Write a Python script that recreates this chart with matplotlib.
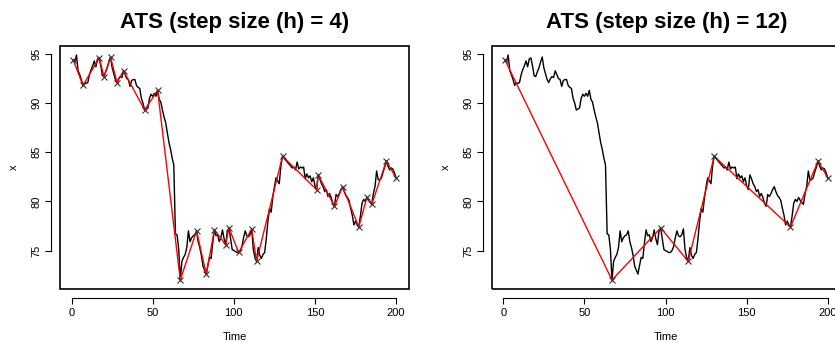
import matplotlib
matplotlib.use("Agg")
import matplotlib.pyplot as plt
from matplotlib.patches import Rectangle
import numpy as np

plt.rcParams['font.family'] = ['Liberation Sans', 'DejaVu Sans']

# series, t = 1..200
x_values = [
    94.4, 94.2, 94.9, 93.3, 92.9, 92.4, 91.8, 92.1, 92.0, 92.1,
    92.9, 93.4, 93.8, 94.3, 93.7, 94.5, 94.6, 93.8, 92.8, 92.7,
    93.2, 93.6, 94.2, 94.7, 93.6, 93.0, 92.4, 92.1, 92.5, 92.7,
    92.6, 93.3, 92.9, 92.5, 92.4, 91.7, 92.3, 92.4, 92.4, 91.8,
    91.6, 91.5, 90.5, 90.0, 89.3, 89.4, 89.5, 90.5, 90.9, 90.7,
    91.0, 90.7, 91.3, 90.4, 90.1, 89.3, 88.6, 88.0, 87.0, 86.0,
    85.3, 84.4, 83.7, 76.7, 76.6, 75.2, 72.0, 73.9, 74.3, 74.6,
    75.3, 77.0, 75.9, 76.3, 76.5, 76.6, 77.0, 75.9, 75.3, 74.5,
    73.4, 73.0, 72.6, 73.5, 74.3, 74.2, 75.8, 77.1, 76.5, 76.6,
    75.9, 76.3, 77.1, 76.2, 75.6, 77.0, 77.3, 76.2, 75.1, 75.0,
    74.9, 74.8, 74.8, 75.0, 75.4, 76.3, 77.0, 76.5, 76.4, 76.6,
    77.2, 75.1, 74.3, 73.9, 75.3, 74.5, 74.2, 74.6, 74.8, 76.2,
    78.0, 79.3, 78.9, 80.4, 81.5, 82.4, 82.1, 81.8, 83.6, 84.6,
    84.4, 84.2, 84.0, 83.8, 83.6, 83.4, 83.5, 83.2, 84.0, 83.3,
    83.5, 83.4, 83.5, 82.3, 82.8, 82.4, 82.6, 82.0, 82.4, 81.6,
    81.2, 82.7, 82.3, 81.8, 81.5, 81.0, 81.2, 80.5, 80.8, 80.4,
    79.8, 79.5, 80.7, 80.5, 80.8, 81.2, 81.5, 81.0, 80.6, 80.4,
    80.1, 79.3, 78.6, 77.6, 78.0, 77.6, 77.4, 78.5, 79.8, 80.2,
    80.0, 80.4, 80.1, 79.9, 79.7, 80.8, 81.5, 83.1, 82.2, 82.2,
    82.4, 83.0, 83.5, 84.1, 83.6, 83.2, 83.4, 83.3, 82.9, 82.4,
]
time = np.arange(1, len(x_values) + 1)

# turning points picked by ATS for each step size
points_h4 = [1, 7, 17, 20, 24, 28, 32, 45, 53, 67, 77, 83, 88, 95, 97, 103,
             111, 114, 130, 151, 152, 162, 167, 177, 182, 185, 194, 200]
points_h12 = [1, 67, 97, 114, 130, 177, 194, 200]

titles = ["ATS (step size (h) = 4)", "ATS (step size (h) = 12)"]
point_sets = [points_h4, points_h12]

fig = plt.figure(figsize=(8.35, 3.43), dpi=100)
W, H = 835, 343
box_w, box_h = 348.7, 243
lefts = [60.3, 492]
top = 46

x_arr = np.array(x_values)
pad_x = 0.04 * (time[-1] - time[0])
pad_y = 0.04 * (x_arr.max() - x_arr.min())

for left, title, pts in zip(lefts, titles, point_sets):
    ax = fig.add_axes([left / W, (H - top - box_h) / H, box_w / W, box_h / H])
    ax.plot(time, x_arr, color='black', lw=1.0)
    pts = np.array(pts)
    ax.plot(pts, x_arr[pts - 1], color='red', lw=1.0)
    ax.plot(pts, x_arr[pts - 1], ls='none', marker='x', color='#333333',
            ms=4.5, mew=0.8)
    ax.set_xlim(time[0] - pad_x, time[-1] + pad_x)
    ax.set_ylim(x_arr.min() - pad_y, x_arr.max() + pad_y)

    # R style: box around plot region, axes drawn slightly outward
    ax.add_patch(Rectangle((0, 0), 1, 1, transform=ax.transAxes, fill=False,
                           lw=1.2, color='black', clip_on=False))
    for s in ['top', 'right']:
        ax.spines[s].set_visible(False)
    for s in ['bottom', 'left']:
        ax.spines[s].set_position(('outward', 6.5))
        ax.spines[s].set_linewidth(0.8)
    ax.set_xticks([0, 50, 100, 150, 200])
    ax.set_yticks([75, 80, 85, 90, 95])
    ax.spines['bottom'].set_bounds(0, 200)
    ax.spines['left'].set_bounds(75, 95)
    ax.tick_params(direction='out', length=4.5, width=0.8, labelsize=8, pad=2.5)
    for lab in ax.get_yticklabels():
        lab.set_rotation(90)
        lab.set_va('center')
    ax.set_xlabel('Time', fontsize=8, labelpad=10)
    ax.set_ylabel('x', fontsize=8, labelpad=9)
    ax.set_title(title, fontsize=16, fontweight='bold', pad=13)

fig.savefig('out.png', dpi=100)
